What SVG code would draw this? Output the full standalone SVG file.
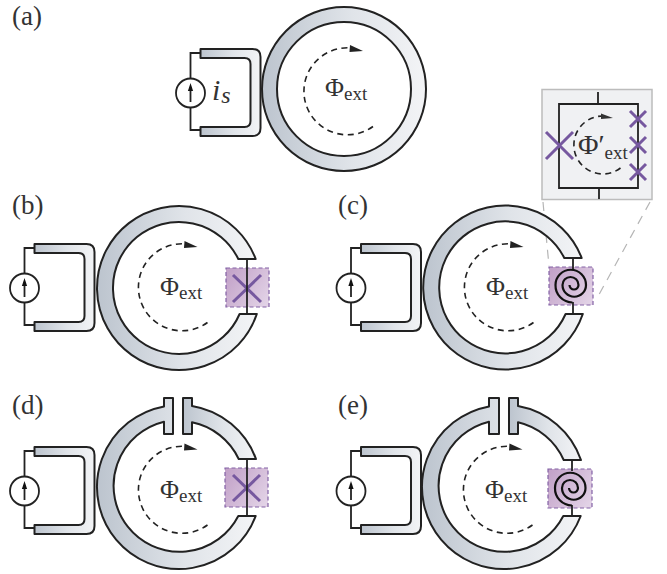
<svg xmlns="http://www.w3.org/2000/svg" xmlns:xlink="http://www.w3.org/1999/xlink" width="667" height="574" viewBox="0 0 667 574">
<style>
.lbl{font-family:"Liberation Serif","Times New Roman",serif;fill:#333;font-size:27px}
.phi{font-family:"Liberation Serif","Times New Roman",serif;fill:#333;font-size:26px}
.sub{font-size:19px}
.metal{fill:url(#metal);stroke:#222;stroke-width:2;stroke-linejoin:round}
.wire{fill:none;stroke:#222;stroke-width:1.8}
.dash{fill:none;stroke:#222;stroke-width:1.6;stroke-dasharray:6 4.500}
.src{fill:#fff;stroke:#222;stroke-width:1.8}
.jbox{fill:url(#purple);stroke:#8362a6;stroke-width:1.2;stroke-dasharray:4 2.500}
.jx{fill:none;stroke:#76589f;stroke-width:3}
.spiral{fill:none;stroke:#111;stroke-width:2.200}
.lead{fill:none;stroke:#b5b5b5;stroke-width:1.2;stroke-dasharray:9 7}
</style>
<defs>
<linearGradient id="metal" x1="0" x2="1" y1="0" y2="0"><stop offset="0" stop-color="#bcc4ce"/><stop offset="0.55" stop-color="#e0e4e9"/><stop offset="1" stop-color="#f3f4f6"/></linearGradient>
<linearGradient id="purple" x1="0" x2="1" y1="0.2" y2="0.8"><stop offset="0" stop-color="#c3a3c9"/><stop offset="1" stop-color="#e2d2e6"/></linearGradient>
<g id="coupler">
<path class="wire" d="M10 4H0V81H10"/>
<path class="metal" d="M10 0H62Q70 0 70 8V79Q70 87 62 87H10V78H54Q60 78 60 72V15Q60 9 54 9H10Z"/>
<circle class="src" cx="0" cy="44" r="14.500"/>
<path class="wire" d="M0 53V38" stroke-width="1.500"/>
<path d="M0 34L-2.600 42H2.600Z" fill="#111"/>
</g>
<g id="flux">
<path class="dash" d="M25.500 35A43.500 43.500 0 1 1 4 -43.500"/>
<path d="M2.500 -46.500L15.500 -40.500L2 -39.500Z" fill="#222"/>
</g>
<path id="spiralShape" class="spiral" d="M1.500 17.500A17 17 0 0 1 -15.500 0A15.250 15.250 0 0 1 15 0A11.750 11.750 0 0 1 -8.500 0A8 8 0 0 1 7.500 0A4.500 4.500 0 0 1 -1.500 0"/>
</defs>

<g id="connectors">
<path class="lead" d="M543 202L549 266"/>
<path class="lead" d="M650 202L596 300"/>
</g>

<g id="panel-a">
<text class="lbl" x="12" y="25">(a)</text>
<use xlink:href="#coupler" href="#coupler" x="190.500" y="49"/>
<path class="metal" fill-rule="evenodd" d="M262 89A82 82 0 1 1 426 89A82 82 0 1 1 262 89ZM277 89A67 67 0 1 0 411 89A67 67 0 1 0 277 89Z"/>
<use xlink:href="#flux" href="#flux" x="347.500" y="91.500"/>
<text class="phi" x="325" y="96">Φ<tspan class="sub" dy="4">ext</tspan></text>
<text x="212" y="100" style="font-family:'Liberation Serif',serif;font-style:italic;font-size:30px;fill:#333">i<tspan dy="3" dx="1" font-size="24">s</tspan></text>
</g>

<g id="panel-b">
<text class="lbl" x="12" y="214">(b)</text>
<use xlink:href="#coupler" href="#coupler" x="24.500" y="244"/>
<path class="metal" d="M255.700 259A82 82 0 1 0 256.800 314H239.600A66 66 0 1 1 238.300 259Z"/>
<rect class="jbox" x="226" y="268" width="43" height="39"/>
<path class="jx" d="M233 275L261 302M261 275L233 302"/>
<path class="wire" d="M247 259V314"/>
<use xlink:href="#flux" href="#flux" x="182" y="287.500"/>
<text class="phi" x="160" y="295">Φ<tspan class="sub" dy="4">ext</tspan></text>
</g>

<g id="panel-c">
<text class="lbl" x="338" y="214">(c)</text>
<use xlink:href="#coupler" href="#coupler" x="351" y="244"/>
<path class="metal" d="M581.700 258A82 82 0 1 0 582.800 314H565.600A66 66 0 1 1 564.300 258Z"/>
<rect class="jbox" x="549" y="267" width="44" height="38"/>
<path class="wire" d="M573 258V269M573 302V314"/>
<use xlink:href="#spiralShape" href="#spiralShape" x="571" y="285"/>
<use xlink:href="#flux" href="#flux" x="508" y="287.500"/>
<text class="phi" x="486" y="295">Φ<tspan class="sub" dy="4">ext</tspan></text>
</g>

<g id="inset">
<rect x="542" y="89.500" width="110" height="110" fill="#f0f1f3" stroke="#bcbcbc" stroke-width="1.500"/>
<path class="wire" d="M598 92V104M599 188V199M559 104H638V188H559Z"/>
<path class="dash" d="M620.500 168A29 29 0 1 1 604 116" stroke-width="1.100" stroke-dasharray="4 3.500"/>
<path d="M601 113.500L613 118L601 119Z" fill="#333"/>
<text class="phi" x="578" y="154" style="font-size:28px">Φ′<tspan dy="5" style="font-size:19px">ext</tspan></text>
<path class="jx" d="M546 132L573 159M573 132L546 159M630 111L646 127M646 111L630 127M630 137L646 153M646 137L630 153M630 164L646 180M646 164L630 180"/>
</g>

<g id="panel-d">
<text class="lbl" x="12" y="414">(d)</text>
<use xlink:href="#coupler" href="#coupler" x="24.500" y="447"/>
<path class="metal" d="M164 398H173V434H164V421.700A66 66 0 1 0 238.300 516H255.700A82 82 0 1 1 164 406.400Z"/>
<path class="metal" d="M183 398H192V406A82 82 0 0 1 256 459H238.700A66 66 0 0 0 192 422.300V434H183Z"/>
<rect class="jbox" x="225" y="468" width="43" height="39"/>
<path class="jx" d="M233 475L260 501M260 475L233 501"/>
<path class="wire" d="M247 459V516"/>
<use xlink:href="#flux" href="#flux" x="182" y="490"/>
<text class="phi" x="160" y="498">Φ<tspan class="sub" dy="4">ext</tspan></text>
</g>

<g id="panel-e">
<text class="lbl" x="338" y="414">(e)</text>
<use xlink:href="#coupler" href="#coupler" x="351" y="447"/>
<path class="metal" d="M489 398H499V434H489V421.700A66 66 0 1 0 563.300 516H580.700A82 82 0 1 1 489 406.400Z"/>
<path class="metal" d="M509 398H518V406A82 82 0 0 1 581 460H563.700A66 66 0 0 0 518 422.300V434H509Z"/>
<rect class="jbox" x="548" y="469" width="44" height="39"/>
<path class="wire" d="M572 460V471M572 505V516"/>
<use xlink:href="#spiralShape" href="#spiralShape" x="570.500" y="488"/>
<use xlink:href="#flux" href="#flux" x="507" y="490"/>
<text class="phi" x="485" y="498">Φ<tspan class="sub" dy="4">ext</tspan></text>
</g>
</svg>
